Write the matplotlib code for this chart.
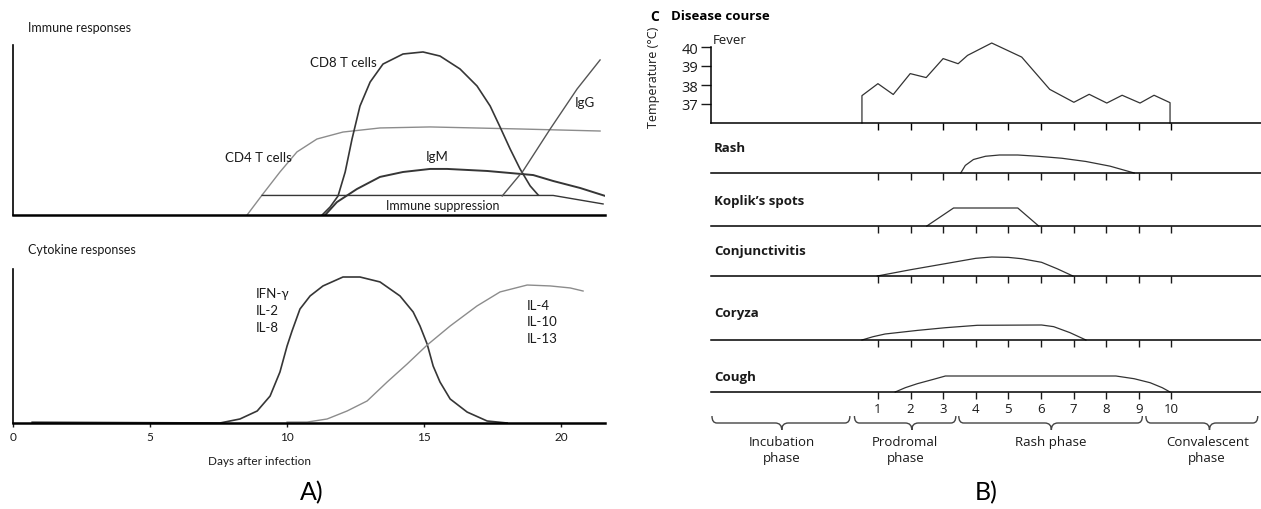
import matplotlib.pyplot as plt
from matplotlib.path import Path
from matplotlib.patches import PathPatch

W, H = 1261, 510

# ---- A) top: immune responses (days after infection, fraction of axis height)
cd8_day = [11.28, 11.57, 11.86, 12.12, 12.37, 12.66, 13.03, 13.50, 14.23, 14.96,
           15.58, 16.31, 16.93, 17.41, 17.77, 18.14, 18.50, 18.87, 19.16]
cd8_val = [0.0, 0.047, 0.112, 0.253, 0.447, 0.641, 0.782, 0.888, 0.947, 0.959,
           0.935, 0.859, 0.759, 0.641, 0.518, 0.388, 0.271, 0.171, 0.118]
cd4_day = [8.54, 9.12, 9.74, 10.36, 11.09, 12.04, 13.39, 15.22, 18.50, 21.42]
cd4_val = [0.0, 0.124, 0.253, 0.371, 0.447, 0.488, 0.512, 0.518, 0.506, 0.494]
igm_day = [11.39, 11.82, 12.55, 13.39, 14.23, 15.22, 15.84, 17.30, 18.98, 19.71, 20.69, 21.61]
igm_val = [0.0, 0.076, 0.153, 0.224, 0.253, 0.271, 0.271, 0.259, 0.235, 0.200, 0.159, 0.112]
supp_day = [9.09, 19.71, 21.53]
supp_val = [0.115, 0.115, 0.065]
igg_day = [17.85, 18.61, 19.60, 20.58, 21.42]
igg_val = [0.112, 0.259, 0.506, 0.741, 0.912]

# ---- A) bottom: cytokine responses
ifn_day = [0.7, 7.55, 8.28, 8.91, 9.38, 9.74, 10.0, 10.18, 10.47, 10.84, 11.31, 12.04,
           12.66, 13.39, 14.12, 14.60, 14.85, 15.11, 15.33, 15.58, 15.95, 16.57, 17.30, 18.03]
ifn_val = [0.005, 0.0, 0.026, 0.078, 0.175, 0.331, 0.50, 0.597, 0.74, 0.825, 0.89, 0.948,
           0.948, 0.916, 0.825, 0.721, 0.63, 0.513, 0.37, 0.266, 0.156, 0.071, 0.013, 0.0]
il_day = [10.0, 10.73, 11.46, 12.19, 12.92, 13.65, 14.38, 15.11, 15.95, 16.93,
          17.77, 18.76, 19.60, 20.33, 20.80]
il_val = [0.006, 0.006, 0.026, 0.078, 0.143, 0.266, 0.383, 0.506, 0.63, 0.76,
          0.851, 0.896, 0.89, 0.877, 0.857]
day_ticks = [0, 5, 10, 15, 20]

# ---- B) disease course (days of illness)
fever_day = [0.51, 0.51, 1.0, 1.47, 1.99, 2.48, 3.0, 3.46, 3.75, 4.49, 5.41, 6.27,
             7.01, 7.48, 8.02, 8.49, 9.04, 9.47, 9.96, 9.96]
fever_temp = [36.0, 37.44, 38.07, 37.5, 38.6, 38.39, 39.39, 39.12, 39.56, 40.21, 39.47, 37.77,
              37.09, 37.51, 37.05, 37.46, 37.05, 37.46, 37.07, 36.0]
temp_ticks = [37, 38, 39, 40]

rash_day = [3.54, 3.68, 3.93, 4.30, 4.73, 5.29, 5.90, 6.64, 7.38, 8.12, 8.86]
rash_val = [0.0, 0.42, 0.75, 0.93, 1.0, 1.0, 0.93, 0.82, 0.64, 0.38, 0.0]
koplik_day = [2.50, 3.32, 5.29, 5.93]
koplik_val = [0.0, 1.0, 1.0, 0.0]
conj_day = [0.98, 2.0, 3.07, 4.0, 4.49, 5.0, 5.41, 6.02, 6.5, 6.98]
conj_val = [0.0, 0.33, 0.65, 0.93, 1.0, 0.98, 0.91, 0.72, 0.38, 0.0]
coryza_day = [0.51, 0.85, 1.22, 2.21, 3.07, 4.05, 6.02, 6.39, 6.89, 7.38]
coryza_val = [0.0, 0.22, 0.40, 0.64, 0.82, 0.98, 1.0, 0.89, 0.49, 0.0]
cough_day = [1.53, 1.84, 2.21, 2.70, 3.07, 8.30, 8.86, 9.35, 9.72, 9.96]
cough_val = [0.0, 0.27, 0.52, 0.79, 1.0, 1.0, 0.83, 0.58, 0.27, 0.0]
illness_days = list(range(1, 11))

phase_names = ['Incubation\nphase', 'Prodromal\nphase', 'Rash phase', 'Convalescent\nphase']
phase_start = [-4.09, 0.28, 3.48, 9.22]
phase_end = [0.14, 3.39, 9.11, 12.65]
phase_tip = [-1.95, 2.04, 6.32, 11.17]
phase_label_x = [-1.95, 1.84, 6.29, 11.1]

plt.rcParams['font.family'] = ['Lato', 'DejaVu Sans']
RFONT = ['Open Sans', 'DejaVu Sans']

DARK = '#363636'
LIGHT = '#8c8c8c'
TXT = '#1a1a1a'


def axrect(x0, y0, x1, y1):
    # pixel box (top-left origin) -> figure fraction
    return [x0 / W, 1 - y1 / H, (x1 - x0) / W, (y1 - y0) / H]


def ftext(x, y, s, **kw):
    fig.text(x / W, 1 - y / H, s, **kw)


fig = plt.figure(figsize=(W / 100, H / 100), dpi=100)

# ---------------- A) immune responses
ax1 = fig.add_axes(axrect(13, 46, 605, 216))
ax1.plot(cd4_day, cd4_val, color=LIGHT, lw=1.0)
ax1.plot(cd8_day, cd8_val, color=DARK, lw=1.2)
ax1.plot(igm_day, igm_val, color=DARK, lw=1.4)
ax1.plot(supp_day, supp_val, color=DARK, lw=1.0)
ax1.plot(igg_day, igg_val, color='#555555', lw=1.0)
ax1.set_xlim(0, 21.6)
ax1.set_ylim(0, 1)
for s in ['top', 'right']:
    ax1.spines[s].set_visible(False)
ax1.spines['left'].set_linewidth(1.2)
ax1.spines['bottom'].set_linewidth(1.8)
ax1.set_xticks([])
ax1.set_yticks([])
ax1.patch.set_visible(False)
lab = dict(fontsize=9.5, color=TXT, ha='center', va='center')
ax1.text(12.04, 0.90, 'CD8 T cells', **lab)
ax1.text(8.94, 0.341, 'CD4 T cells', **lab)
ax1.text(15.47, 0.347, 'IgM', **lab)
ax1.text(20.88, 0.665, 'IgG', **lab)
ax1.text(15.69, 0.059, 'Immune suppression', fontsize=9, color=TXT, ha='center', va='center')
ftext(28, 28, 'Immune responses', fontsize=9, color=TXT, va='center')

# ---------------- A) cytokine responses
ax2 = fig.add_axes(axrect(13, 270, 605, 424))
ax2.plot(ifn_day, ifn_val, color=DARK, lw=1.2)
ax2.plot(il_day, il_val, color=LIGHT, lw=1.0)
ax2.set_xlim(0, 21.6)
ax2.set_ylim(0, 1)
for s in ['top', 'right']:
    ax2.spines[s].set_visible(False)
ax2.spines['left'].set_linewidth(1.2)
ax2.spines['bottom'].set_linewidth(1.8)
ax2.set_yticks([])
ax2.set_xticks(day_ticks)
ax2.tick_params(axis='x', length=3, width=1, labelsize=8.5, pad=3, colors=TXT)
ax2.patch.set_visible(False)
lab = dict(fontsize=9.5, color=TXT, ha='left', va='center')
for txt, yv in zip(['IFN-γ', 'IL-2', 'IL-8'], [0.844, 0.734, 0.623]):
    ax2.text(8.87, yv, txt, **lab)
for txt, yv in zip(['IL-4', 'IL-10', 'IL-13'], [0.766, 0.662, 0.552]):
    ax2.text(18.76, yv, txt, **lab)
ftext(28, 250, 'Cytokine responses', fontsize=9, color=TXT, va='center')
ftext(259, 462, 'Days after infection', fontsize=8.5, color=TXT, ha='center', va='center')
ftext(312, 493, 'A)', fontsize=18, ha='center', va='center')

# ---------------- B) disease course
XL = (-4.12, 12.75)
RC = '#333333'

axf = fig.add_axes(axrect(711, 48, 1261, 124))
axf.plot(fever_day, fever_temp, color=RC, lw=0.9, clip_on=False)
axf.set_xlim(*XL)
axf.set_ylim(36, 40)
for s in ['top', 'right']:
    axf.spines[s].set_visible(False)
axf.spines['left'].set_linewidth(1.1)
axf.spines['bottom'].set_linewidth(1.1)
axf.set_yticks(temp_ticks)
axf.set_xticks(illness_days)
axf.set_xticklabels([])
axf.tick_params(axis='y', length=7, width=1, labelsize=10.5, pad=2, colors=TXT)
axf.tick_params(axis='x', length=5, width=1)
for t in axf.get_yticklabels():
    t.set_family(RFONT)
axf.patch.set_visible(False)
ftext(713, 41, 'Fever', fontsize=9.5, color=TXT, va='center', family=RFONT)
ftext(654, 77, 'Temperature (°C)', fontsize=9, rotation=90, ha='center', va='center',
      color=TXT, family=RFONT)
ftext(650, 17, 'C', fontsize=10, fontweight='bold', va='center', family=RFONT)
ftext(671, 17, 'Disease course', fontsize=9.5, fontweight='bold', va='center', family=RFONT)

rows = [
    ('Rash', rash_day, rash_val, 149, 174, 18),
    ('Koplik’s spots', koplik_day, koplik_val, 202, 227, 18),
    ('Conjunctivitis', conj_day, conj_val, 252, 277, 19),
    ('Coryza', coryza_day, coryza_val, 313, 341, 15),
    ('Cough', cough_day, cough_val, 377, 393, 16),
]
for i, (name, d, v, ly, base, h) in enumerate(rows):
    ax = fig.add_axes(axrect(711, base - h, 1261, base))
    ax.plot(d, v, color=RC, lw=0.9, clip_on=False)
    ax.set_xlim(*XL)
    ax.set_ylim(0, 1)
    for s in ['top', 'right', 'left']:
        ax.spines[s].set_visible(False)
    ax.spines['bottom'].set_linewidth(1.1)
    ax.set_yticks([])
    ax.set_xticks(illness_days)
    ax.tick_params(axis='x', length=5, width=1, labelsize=9.5, pad=2, colors=TXT)
    if i < len(rows) - 1:
        ax.set_xticklabels([])
    else:
        for t in ax.get_xticklabels():
            t.set_family(RFONT)
    ax.patch.set_visible(False)
    ftext(714, ly, name, fontsize=9.5, fontweight='bold', color=TXT, va='center', family=RFONT)

# phase braces
axb = fig.add_axes(axrect(711, 417, 1261, 431))
axb.set_xlim(*XL)
axb.set_ylim(2, 0)
axb.axis('off')
hook, half = 0.15, 0.2
for a, b, m in zip(phase_start, phase_end, phase_tip):
    verts = [(a, 0), (a, 1), (a + hook, 1), (m - half, 1), (m, 1), (m, 2),
             (m, 1), (m + half, 1), (b - hook, 1), (b, 1), (b, 0)]
    codes = [Path.MOVETO, Path.CURVE3, Path.CURVE3, Path.LINETO, Path.CURVE3, Path.CURVE3,
             Path.CURVE3, Path.CURVE3, Path.LINETO, Path.CURVE3, Path.CURVE3]
    axb.add_patch(PathPatch(Path(verts, codes), fill=False, edgecolor='#444444', lw=1.0))
for name, lx in zip(phase_names, phase_label_x):
    axb.text(lx, 2.75, name, fontsize=9.5, color=TXT, ha='center', va='top',
             linespacing=1.3, clip_on=False, family=RFONT)

ftext(986, 493, 'B)', fontsize=18, ha='center', va='center')

fig.savefig('out.png', dpi=100)
